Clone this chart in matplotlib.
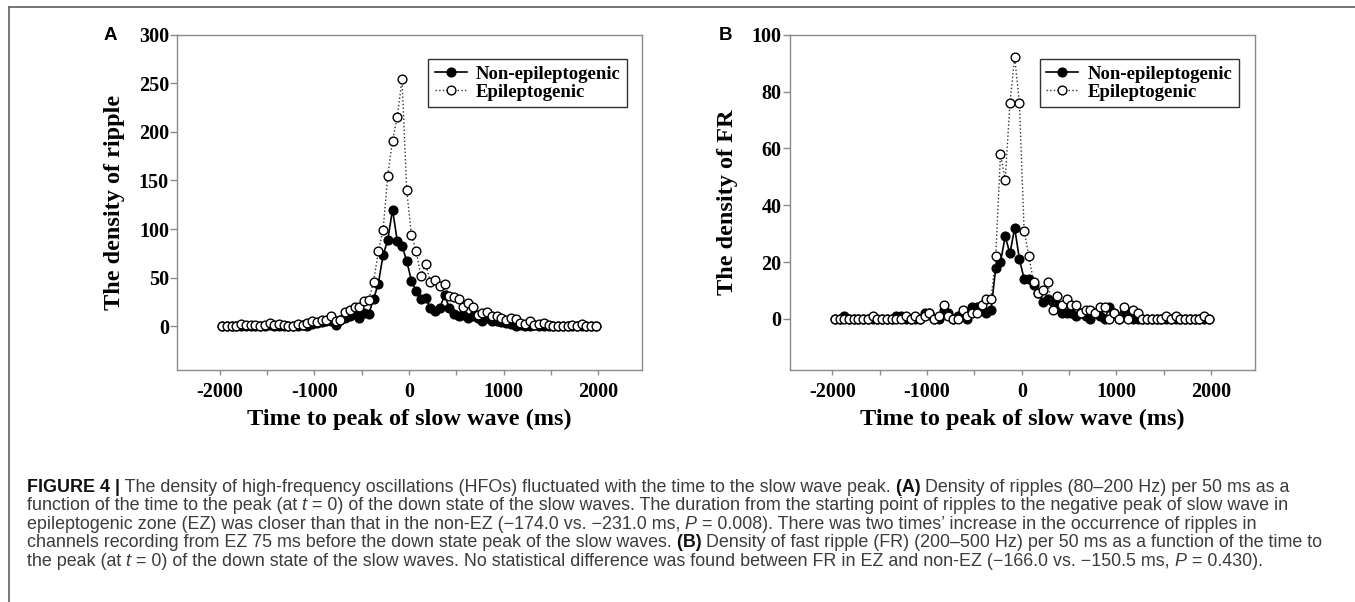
import numpy as np
import matplotlib
matplotlib.use("Agg")
import matplotlib.pyplot as plt
from matplotlib.lines import Line2D
from matplotlib.ticker import MultipleLocator

plt.rcParams["axes.unicode_minus"] = False

# time bins (ms), bin centres every 50 ms
time_ms = np.arange(-1975, 2000, 50)

# panel A: ripple density
ripple_non_ez = [0, 0, 0, 0, 0, 0, 0, 0, 0, 0,
                 1, 0, 0, 0, 0, 0, 0, 1, 0, 2,
                 3, 4, 5, 5, 1, 6, 8, 11, 13, 8,
                 14, 13, 28, 44, 73, 89, 120, 88, 83, 67,
                 47, 36, 28, 29, 19, 16, 19, 32, 19, 13,
                 11, 12, 9, 11, 8, 5, 8, 5, 5, 4,
                 3, 2, 0, 1, 0, 0, 1, 0, 0, 0,
                 0, 0, 0, 0, 0, 0, 0, 0, 0, 0]
ripple_ez = [0, 0, 0, 0, 2, 1, 1, 1, 0, 1,
             3, 1, 2, 1, 0, 0, 2, 1, 3, 5,
             4, 6, 6, 11, 5, 6, 15, 17, 20, 20,
             26, 27, 46, 77, 99, 155, 191, 215, 254, 140,
             94, 77, 52, 64, 46, 48, 41, 43, 31, 30,
             28, 20, 24, 20, 12, 14, 15, 11, 11, 8,
             6, 8, 7, 3, 2, 5, 1, 2, 3, 1,
             0, 0, 0, 0, 1, 0, 2, 0, 0, 0]

# panel B: fast ripple density
fr_non_ez = [0, 0, 1, 0, 0, 0, 0, 0, 0, 0,
             0, 0, 0, 1, 1, 0, 0, 0, 0, 2,
             2, 0, 0, 3, 2, 0, 1, 1, 0, 4,
             4, 3, 2, 3, 18, 20, 29, 23, 32, 21,
             14, 14, 12, 9, 6, 7, 6, 5, 2, 2,
             2, 1, 2, 1, 0, 2, 1, 0, 4, 2,
             0, 2, 1, 0, 0, 0, 0, 0, 0, 0,
             0, 0, 0, 0, 0, 0, 0, 0, 0, 0]
fr_ez = [0, 0, 0, 0, 0, 0, 0, 0, 1, 0,
         0, 0, 0, 0, 0, 1, 0, 1, 0, 1,
         2, 0, 1, 5, 1, 0, 0, 3, 1, 2,
         2, 5, 7, 7, 22, 58, 49, 76, 92, 76,
         31, 22, 13, 9, 10, 13, 3, 8, 5, 7,
         5, 5, 2, 3, 3, 2, 4, 4, 0, 2,
         0, 4, 0, 3, 2, 0, 0, 0, 0, 0,
         1, 0, 1, 0, 0, 0, 0, 0, 1, 0]

y_ticks_a = [0, 50, 100, 150, 200, 250, 300]
y_ticks_b = [0, 20, 40, 60, 80, 100]
x_ticks = [-2000, -1000, 0, 1000, 2000]
series_labels = ["Non-epileptogenic", "Epileptogenic"]

W, H = 1355, 602
SERIF = "Liberation Serif"
CAP_FONT = "Liberation Sans"
SPINE = "#8a8a8a"


def draw_panel(ax, non_ez, ez, ylim, yticks, ylabel, legend_x):
    ax.plot(time_ms, non_ez, "-o", color="black", lw=1.2, ms=6.3,
            mfc="black", mec="black", label=series_labels[0], zorder=3)
    ax.plot(time_ms, ez, ":o", color="#333333", lw=1.0, ms=6.3,
            mfc="white", mec="black", mew=1.0, label=series_labels[1], zorder=4)
    ax.set_xlim(-2450, 2460)
    ax.set_ylim(*ylim)
    ax.set_yticks(yticks)
    ax.set_xticks(x_ticks)
    ax.xaxis.set_minor_locator(MultipleLocator(500))
    for s in ax.spines.values():
        s.set_color(SPINE)
        s.set_linewidth(1.0)
    ax.tick_params(axis="y", length=5, width=1, color=SPINE, pad=1, labelsize=14.5)
    ax.tick_params(axis="x", which="both", length=3.5, width=1, color=SPINE, pad=5, labelsize=14.5)
    for lab in ax.get_xticklabels() + ax.get_yticklabels():
        lab.set_fontfamily(SERIF)
        lab.set_fontweight("bold")
    ax.set_xlabel("Time to peak of slow wave (ms)", family=SERIF, weight="bold",
                  fontsize=17.5, labelpad=5)
    ax.set_ylabel(ylabel, family=SERIF, weight="bold", fontsize=17.5, labelpad=10)
    leg = ax.legend(loc="upper right", bbox_to_anchor=(legend_x, 0.927),
                    prop={"family": SERIF, "weight": "bold", "size": 13.5},
                    frameon=True, fancybox=False, handlelength=1.7,
                    handletextpad=0.5, labelspacing=0.05, borderpad=0.35,
                    borderaxespad=0)
    leg.get_frame().set_edgecolor("black")
    leg.get_frame().set_linewidth(1.0)


fig = plt.figure(figsize=(W / 100, H / 100), dpi=100)

ax_a = fig.add_axes([177.3 / W, 1 - 370 / H, 464.5 / W, 335.3 / H])
draw_panel(ax_a, ripple_non_ez, ripple_ez, (-45, 300), y_ticks_a,
           "The density of ripple", 0.969)

ax_b = fig.add_axes([789.8 / W, 1 - 370 / H, 464.9 / W, 335.3 / H])
draw_panel(ax_b, fr_non_ez, fr_ez, (-18, 100), y_ticks_b,
           "The density of FR", 0.966)

# panel letters
fig.text(110 / W, 1 - 36 / H, "A", family="Liberation Sans", weight="bold",
         fontsize=13.5, ha="center", va="center")
fig.text(725 / W, 1 - 36 / H, "B", family="Liberation Sans", weight="bold",
         fontsize=13.5, ha="center", va="center")

# frame lines around the figure
fig.add_artist(Line2D([8.7 / W, 1.0], [1 - 7.3 / H, 1 - 7.3 / H],
                      transform=fig.transFigure, color="#6a6a6a", lw=1.3))
fig.add_artist(Line2D([8.7 / W, 8.7 / W], [1 - 7.3 / H, 0.0],
                      transform=fig.transFigure, color="#6a6a6a", lw=1.3))

# caption, drawn piece by piece so bold / italic parts can mix
caption_lines = [
    [("FIGURE 4 |", "bold", "normal"),
     (" The density of high-frequency oscillations (HFOs) fluctuated with the time to the slow wave peak.", "normal", "normal"),
     (" (A)", "bold", "normal"),
     (" Density of ripples (80–200 Hz) per 50 ms as a", "normal", "normal")],
    [("function of the time to the peak (at", "normal", "normal"),
     (" t", "normal", "italic"),
     (" = 0) of the down state of the slow waves. The duration from the starting point of ripples to the negative peak of slow wave in", "normal", "normal")],
    [("epileptogenic zone (EZ) was closer than that in the non-EZ (−174.0 vs. −231.0 ms,", "normal", "normal"),
     (" P", "normal", "italic"),
     (" = 0.008). There was two times’ increase in the occurrence of ripples in", "normal", "normal")],
    [("channels recording from EZ 75 ms before the down state peak of the slow waves.", "normal", "normal"),
     (" (B)", "bold", "normal"),
     (" Density of fast ripple (FR) (200–500 Hz) per 50 ms as a function of the time to", "normal", "normal")],
    [("the peak (at", "normal", "normal"),
     (" t", "normal", "italic"),
     (" = 0) of the down state of the slow waves. No statistical difference was found between FR in EZ and non-EZ (−166.0 vs. −150.5 ms,", "normal", "normal"),
     (" P", "normal", "italic"),
     (" = 0.430).", "normal", "normal")],
]
caption_y = [491.5, 510.1, 528.7, 547.3, 565.9]

renderer = fig.canvas.get_renderer()
for parts, y in zip(caption_lines, caption_y):
    x = 27.0
    for txt, weight, style in parts:
        color = "#111111" if weight == "bold" else "#3c3c3c"
        t = fig.text(x / W, 1 - y / H, txt, family=CAP_FONT, weight=weight,
                     style=style, fontsize=12.9, color=color,
                     ha="left", va="baseline")
        x += t.get_window_extent(renderer).width

fig.savefig("out.png", dpi=100)
